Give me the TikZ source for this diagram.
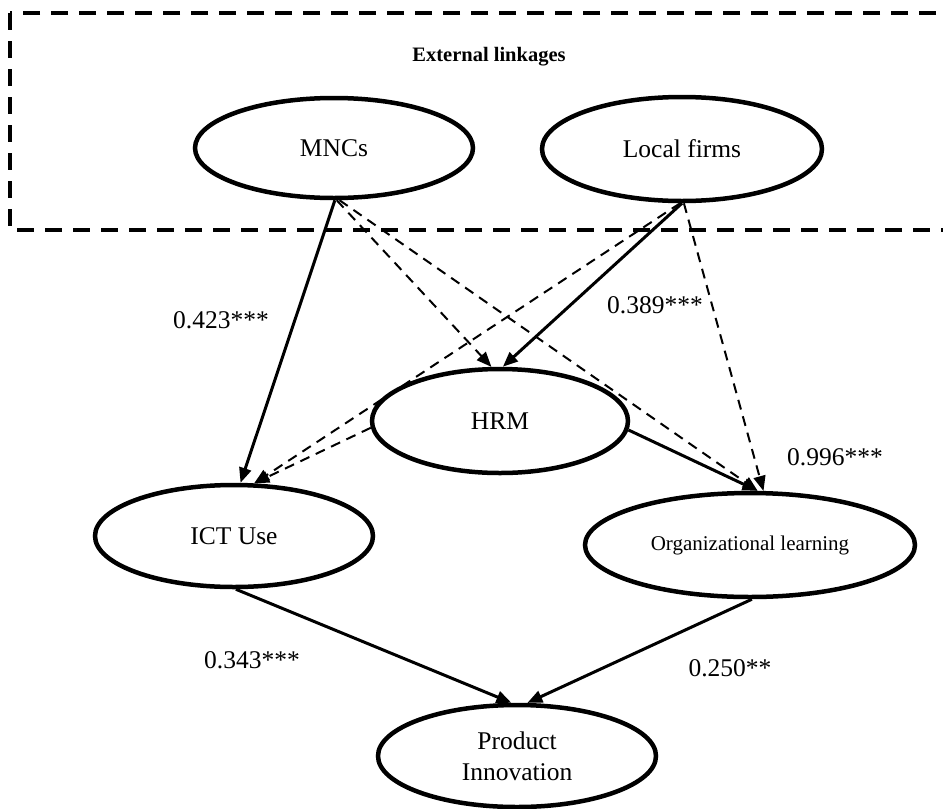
\documentclass[tikz,border=0pt]{standalone}
\usepackage{fontspec}
\setmainfont{Liberation Serif}
\usetikzlibrary{arrows.meta,shapes.geometric}
\begin{document}
\begin{tikzpicture}[x=1pt,y=-1pt,
  ell/.style={draw, ellipse, line width=4.5pt, inner sep=0pt, align=center,
    font=\fontsize{25.5}{31}\selectfont},
  solidarrow/.style={line width=3pt, -{Triangle[length=15pt,width=12pt]}},
  dasharrow/.style={line width=2pt, dash pattern=on 10pt off 7pt,
    -{Triangle[length=15pt,width=12pt]}},
  lbl/.style={font=\fontsize{25.5}{29}\selectfont, inner sep=0pt},
  boxline/.style={line width=4pt, dash pattern=on 17pt off 11pt}
]
\useasboundingbox (0,0) rectangle (943,809);
\clip (0,0) rectangle (943,809);

% external linkages box
\draw[boxline] (10,13) rectangle (970,230);
\node[font=\bfseries\fontsize{20.5}{24}\selectfont, inner sep=0pt] (ext) at (489,57) {External linkages};

% nodes
\node[ell, minimum width=278pt, minimum height=100pt] (mnc) at (334,148) {MNCs};
\node[ell, minimum width=280pt, minimum height=104pt] (loc) at (682,149) {Local firms};
\node[ell, minimum width=256pt, minimum height=104pt] (hrm) at (500,421) {HRM};
\node[ell, minimum width=278pt, minimum height=102pt] (ict) at (234,536) {ICT Use};
\node[ell, minimum width=330pt, minimum height=104pt,
      font=\fontsize{21}{25}\selectfont] (org) at (750,545) {Organizational learning};
\node[ell, minimum width=278pt, minimum height=102pt] (pi) at (517,756) {Product\\Innovation};

% connectors
\draw[solidarrow] (mnc.-89) -- (ict.83);
\draw[dasharrow]  (mnc.-87) -- (hrm.99);
\draw[dasharrow]  (mnc.-84) -- (org.82);
\draw[solidarrow] (loc.-90) -- (hrm.87);
\draw[dasharrow]  (loc.-92) -- (ict.69);
\draw[dasharrow]  (loc.-88) -- (org.76);
\draw[dasharrow]  (hrm.183) -- (ict.69);
\draw[solidarrow] (hrm.-4) -- (org.82);
\draw[solidarrow] (ict.-88) -- (pi.96);
\draw[solidarrow] (org.-88) -- (pi.79);

% labels
\node[lbl] (l1) at (221,320) {0.423***};
\node[lbl] (l2) at (655,305) {0.389***};
\node[lbl] (l3) at (835,457) {0.996***};
\node[lbl] (l4) at (252,660) {0.343***};
\node[lbl] (l5) at (730,668) {0.250**};
\end{tikzpicture}
\end{document}
